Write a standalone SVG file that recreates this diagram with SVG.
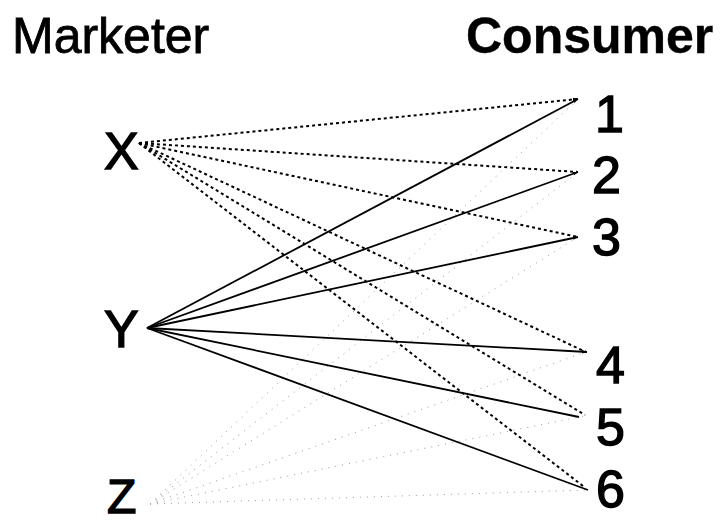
<svg xmlns="http://www.w3.org/2000/svg" width="725" height="524" viewBox="0 0 725 524">
  <style>
    .title { font-family: "Liberation Sans", Arial, sans-serif; font-size: 50px; fill: #000; stroke: #000; stroke-width: 0.8; }
    .bold { font-weight: bold; stroke-width: 0.4; }
    .label { font-family: "Liberation Sans", Arial, sans-serif; font-size: 52px; fill: #000; stroke: #000; stroke-width: 1.4; }
    .solid { stroke: #000; stroke-width: 1.8; fill: none; }
    .dash { stroke: #000; stroke-width: 2; stroke-dasharray: 3 3; fill: none; }
    .faint { stroke: #999; stroke-width: 1; stroke-dasharray: 1 6; fill: none; }
  </style>
  <defs>
    <marker id="tip" viewBox="0 0 8 6" refX="8" refY="3" markerWidth="5" markerHeight="4" orient="auto" markerUnits="userSpaceOnUse">
      <path d="M0,0 L8,3 L0,6 Z" fill="#000"/>
    </marker>
  </defs>
  <rect width="725" height="524" fill="#fff"/>

  <text class="title" x="12" y="53">Marketer</text>
  <text class="title bold" x="466" y="53">Consumer</text>

  <g id="connectors">
    <!-- Z: faint dotted -->
    <g>
      <line class="faint" x1="150" y1="504" x2="578" y2="99"/>
      <line class="faint" x1="150" y1="504" x2="578" y2="172"/>
      <line class="faint" x1="150" y1="504" x2="578" y2="237"/>
      <line class="faint" x1="150" y1="504" x2="586" y2="352"/>
      <line class="faint" x1="150" y1="504" x2="584" y2="416"/>
      <line class="faint" x1="150" y1="504" x2="586" y2="490"/>
    </g>
    <!-- X: dashed -->
    <g>
      <line class="dash" x1="139" y1="143" x2="578" y2="99" marker-end="url(#tip)"/>
      <line class="dash" x1="139" y1="143" x2="578" y2="172"/>
      <line class="dash" x1="139" y1="143" x2="578" y2="237"/>
      <line class="dash" x1="139" y1="143" x2="586" y2="352"/>
      <line class="dash" x1="139" y1="143" x2="585" y2="415"/>
      <line class="dash" x1="139" y1="143" x2="583" y2="486"/>
    </g>
    <!-- Y: solid -->
    <g>
      <line class="solid" x1="147" y1="328" x2="578" y2="99" marker-end="url(#tip)"/>
      <line class="solid" x1="147" y1="328" x2="578" y2="172" marker-end="url(#tip)"/>
      <line class="solid" x1="147" y1="328" x2="578" y2="237" marker-end="url(#tip)"/>
      <line class="solid" x1="147" y1="328" x2="587" y2="352" marker-end="url(#tip)"/>
      <line class="solid" x1="147" y1="328" x2="579" y2="417"/>
      <line class="solid" x1="147" y1="328" x2="588" y2="490"/>
    </g>
  </g>

  <g id="X"><text class="label" x="104" y="169">X</text></g>
  <g id="Y"><text class="label" x="104" y="347">Y</text></g>
  <g id="Z"><text class="label" x="107" y="513" style="font-size:48px">Z</text></g>

  <g id="c1"><text class="label" x="595" y="132">1</text></g>
  <g id="c2"><text class="label" x="592" y="193">2</text></g>
  <g id="c3"><text class="label" x="592" y="255">3</text></g>
  <g id="c4"><text class="label" x="596" y="383">4</text></g>
  <g id="c5"><text class="label" x="596" y="445">5</text></g>
  <g id="c6"><text class="label" x="596" y="507">6</text></g>
</svg>
